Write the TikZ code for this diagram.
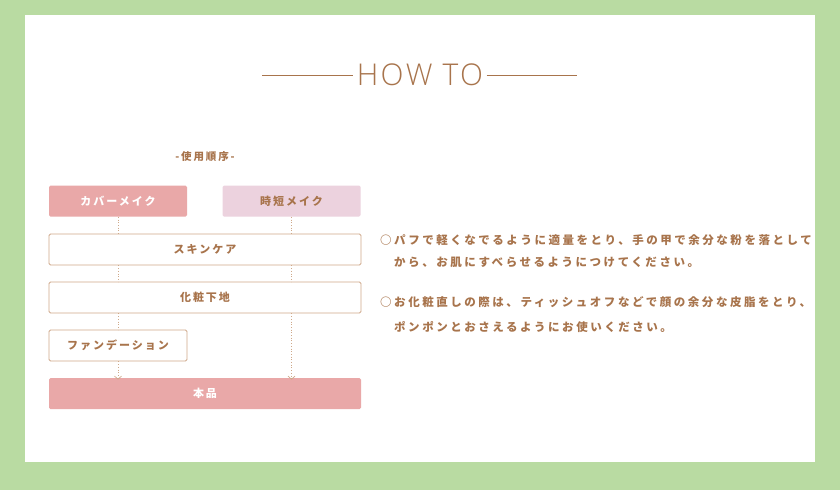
\documentclass[tikz,border=0pt]{standalone}
\usepackage{fontspec}
\newfontfamily\jp[LetterSpace=18]{Noto Sans CJK JP}
\newfontfamily\jpbody[LetterSpace=22]{Noto Sans CJK JP}
\newfontfamily\titlefont[LetterSpace=8]{Open Sans Light}
\usetikzlibrary{arrows.meta,positioning}
\definecolor{bgreen}{HTML}{B9DBA2}
\definecolor{brown}{HTML}{A8744C}
\definecolor{rosefill}{HTML}{E9A8A8}
\definecolor{pinkfill}{HTML}{ECD2DE}
\definecolor{boxline}{HTML}{CFA98A}
\begin{document}
\begin{tikzpicture}[x=1pt,y=-1pt,
  box/.style={draw=boxline,fill=white,rounded corners=1.5pt,line width=0.8pt,
    minimum height=31pt,inner sep=0pt,text=brown,font=\jp\bfseries\fontsize{11}{11}\selectfont},
  wide/.style={box,minimum width=312pt},
  half/.style={box,minimum width=138pt},
  rose/.style={draw=none,fill=rosefill,text=white},
  pink/.style={draw=none,fill=pinkfill},
  flow/.style={boxline,line width=0.7pt,dotted},
  body/.style={anchor=west,text=brown,inner sep=0pt,font=\jpbody\bfseries\fontsize{11.5}{11.5}\selectfont}]
  \fill[bgreen] (0,0) rectangle (840,490);
  \fill[white] (25,15) rectangle (815,462);
  % title
  \node[text=brown,font=\titlefont\fontsize{30}{30}\selectfont] (title) at (420,75) {HOW TO};
  \coordinate (tl) at (262,75); \coordinate (tr) at (577,75);
  \draw[brown,line width=0.6pt] (tl) -- (title.west);
  \draw[brown,line width=0.6pt] (title.east) -- (tr);
  \node[text=brown,font=\jp\bfseries\fontsize{10.5}{10.5}\selectfont] (order) at (205,157) {-使用順序-};
  % boxes
  \node[half,rose] (cover) at (118,201) {カバーメイク};
  \node[half,pink] (quick) at (291.5,201) {時短メイク};
  \node[wide] (skin) at (205,249.5) {スキンケア};
  \node[wide] (base) at (205,297.5) {化粧下地};
  \node[half] (found) at (118,345.5) {ファンデーション};
  \node[wide,rose] (main) at (205,393.5) {本品};
  % connectors
  \coordinate (s1) at (skin.north -| cover); \coordinate (s2) at (skin.north -| quick);
  \coordinate (s3) at (skin.south -| cover); \coordinate (s4) at (skin.south -| quick);
  \coordinate (b1) at (base.north -| cover); \coordinate (b2) at (base.north -| quick);
  \coordinate (b3) at (base.south -| cover); \coordinate (b4) at (base.south -| quick);
  \coordinate (m2) at (main.north -| quick);
  \draw[flow] (cover.south) -- (s1);
  \draw[flow] (quick.south) -- (s2);
  \draw[flow] (s3) -- (b1);
  \draw[flow] (s4) -- (b2);
  \draw[flow] (b3) -- (found.north);
  \draw[flow,-{Straight Barb[length=3pt,width=7pt,line width=0.7pt]}] (b4) -- ([yshift=-2pt]m2);
  \draw[flow,-{Straight Barb[length=3pt,width=7pt,line width=0.7pt]}] (found.south) -- ([yshift=-2pt]main.north -| found);
  % text
  \node[body] (t1) at (380,240) {○パフで軽くなでるように適量をとり、手の甲で余分な粉を落として};
  \node[body] (t2) at (394,262) {から、お肌にすべらせるようにつけてください。};
  \node[body] (t3) at (380,302) {○お化粧直しの際は、ティッシュオフなどで顔の余分な皮脂をとり、};
  \node[body] (t4) at (394,327) {ポンポンとおさえるようにお使いください。};
\end{tikzpicture}
\end{document}
